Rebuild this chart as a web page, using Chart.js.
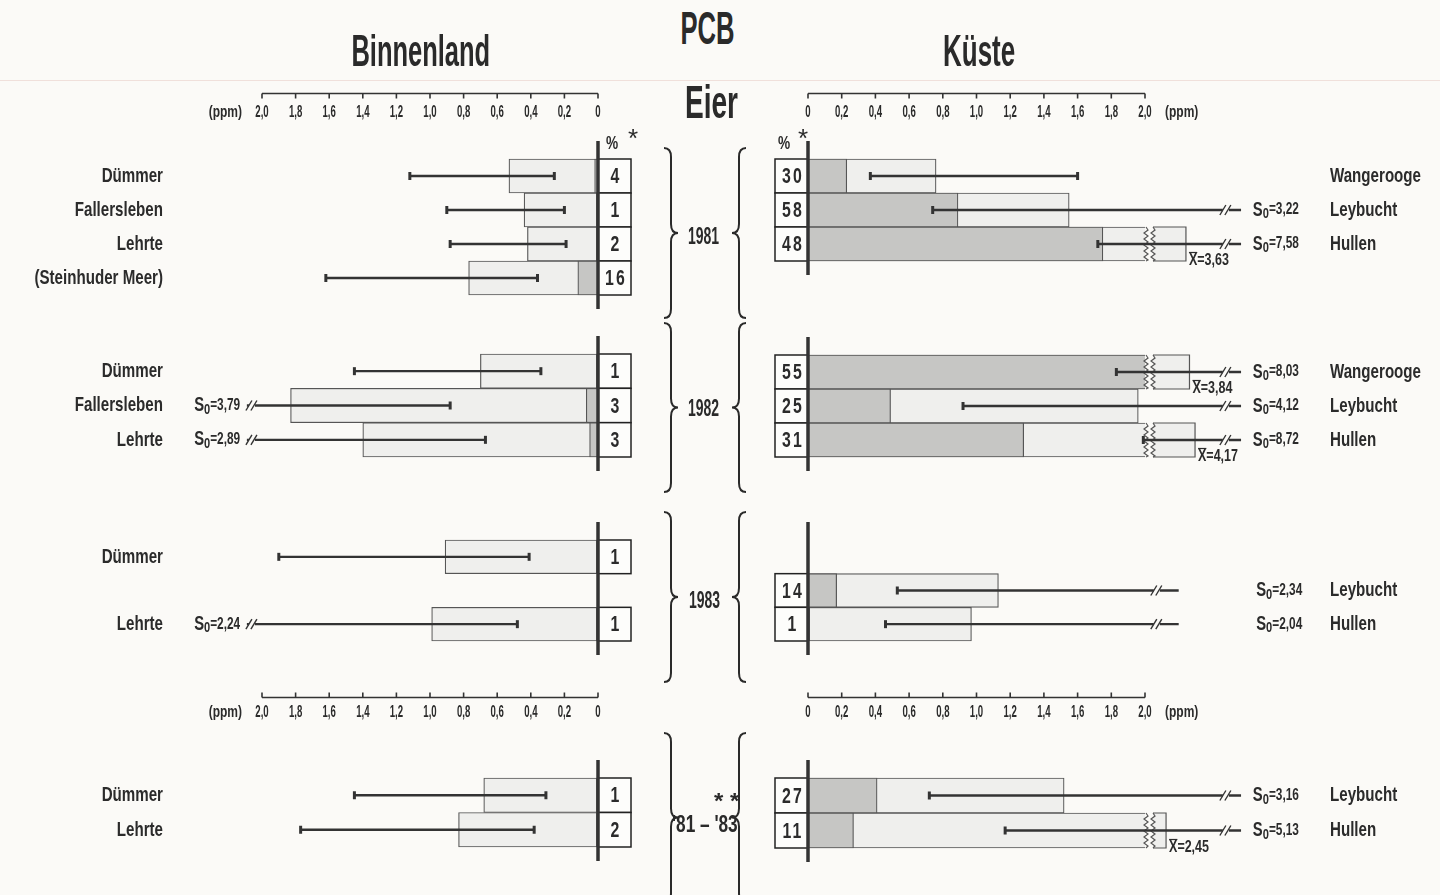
<!DOCTYPE html>
<html lang="de">
<head>
<meta charset="utf-8">
<title>PCB Eier</title>
<script src="https://cdn.jsdelivr.net/npm/chart.js@4.4.1/dist/chart.umd.min.js"></script>
<style>
  html, body { margin: 0; padding: 0; background: #fbfaf7; }
  #blatt { position: relative; width: 1440px; height: 895px; overflow: hidden; background: #fbfaf7;
           font-family: 'Liberation Sans', Arial, sans-serif; color: #2a2a2a; }
  .txt { position: absolute; white-space: nowrap; font-weight: bold; line-height: 1; transform-origin: 50% 50%; }
  canvas { position: absolute; }
  #klammern { position: absolute; left: 0; top: 0; }
  .linie { position: absolute; left: 0; width: 1440px; height: 1px; background: rgba(222, 175, 165, 0.35); }
</style>
</head>
<body>
<div id="blatt">
  <div class="linie" style="top:80px"></div>
  <svg id="klammern" width="1440" height="895"></svg>
</div>
<script>
const FONT = "'Liberation Sans', Arial, sans-serif";
const TINTE = '#2b2b2b';
const HELL = '#efefed';
const DUNKEL = '#c6c6c4';
const SX = 0.72;   // schmale Schrift

// x-Achse (ppm)
const tickWerte = [0, 0.2, 0.4, 0.6, 0.8, 1.0, 1.2, 1.4, 1.6, 1.8, 2.0];

// Binnenland 1981
const orteBinnen1981 = ['Dümmer', 'Fallersleben', 'Lehrte', '(Steinhuder Meer)'];
const mittelBinnen1981 = [0.53, 0.44, 0.42, 0.77];
const anteilBinnen1981 = [0.02, 0.01, 0.01, 0.12];
const prozentBinnen1981 = [4, 1, 2, 16];
const sUntenBinnen1981 = [0.26, 0.20, 0.19, 0.36];
const sObenBinnen1981 = [1.12, 0.90, 0.88, 1.62];

// Binnenland 1982
const orteBinnen1982 = ['Dümmer', 'Fallersleben', 'Lehrte'];
const mittelBinnen1982 = [0.70, 1.83, 1.40];
const anteilBinnen1982 = [0.01, 0.07, 0.05];
const prozentBinnen1982 = [1, 3, 3];
const sUntenBinnen1982 = [0.34, 0.88, 0.67];
const sObenBinnen1982 = [1.45, 3.79, 2.89];

// Binnenland 1983 (mittlere Zeile leer)
const orteBinnen1983 = ['Dümmer', '', 'Lehrte'];
const mittelBinnen1983 = [0.91, null, 0.99];
const anteilBinnen1983 = [0.01, null, 0.01];
const prozentBinnen1983 = [1, null, 1];
const sUntenBinnen1983 = [0.41, null, 0.48];
const sObenBinnen1983 = [1.90, null, 2.24];

// Binnenland '81-'83
const orteBinnenGesamt = ['Dümmer', 'Lehrte'];
const mittelBinnenGesamt = [0.68, 0.83];
const anteilBinnenGesamt = [0.01, 0.01];
const prozentBinnenGesamt = [1, 2];
const sUntenBinnenGesamt = [0.31, 0.38];
const sObenBinnenGesamt = [1.45, 1.77];

// Küste 1981
const orteKueste1981 = ['Wangerooge', 'Leybucht', 'Hullen'];
const mittelKueste1981 = [0.76, 1.55, 3.63];
const anteilKueste1981 = [0.23, 0.89, 1.75];
const prozentKueste1981 = [30, 58, 48];
const sUntenKueste1981 = [0.37, 0.74, 1.72];
const sObenKueste1981 = [1.60, 3.22, 7.58];

// Küste 1982
const orteKueste1982 = ['Wangerooge', 'Leybucht', 'Hullen'];
const mittelKueste1982 = [3.84, 1.96, 4.17];
const anteilKueste1982 = [2.11, 0.49, 1.28];
const prozentKueste1982 = [55, 25, 31];
const sUntenKueste1982 = [1.83, 0.92, 1.99];
const sObenKueste1982 = [8.03, 4.12, 8.72];

// Küste 1983 (erste Zeile leer)
const orteKueste1983 = ['', 'Leybucht', 'Hullen'];
const mittelKueste1983 = [null, 1.13, 0.97];
const anteilKueste1983 = [null, 0.17, 0.01];
const prozentKueste1983 = [null, 14, 1];
const sUntenKueste1983 = [null, 0.53, 0.46];
const sObenKueste1983 = [null, 2.34, 2.04];

// Küste '81-'83
const orteKuesteGesamt = ['Leybucht', 'Hullen'];
const mittelKuesteGesamt = [1.52, 2.45];
const anteilKuesteGesamt = [0.41, 0.27];
const prozentKuesteGesamt = [27, 11];
const sUntenKuesteGesamt = [0.72, 1.17];
const sObenKuesteGesamt = [3.16, 5.13];

const blatt = document.getElementById('blatt');

function komma(v, stellen) {
  return v.toFixed(stellen).replace('.', ',');
}

function setzeText(text, cx, cy, size, zielBreite) {
  const d = document.createElement('div');
  d.className = 'txt';
  d.textContent = text;
  d.style.fontSize = size + 'px';
  blatt.appendChild(d);
  const w = d.offsetWidth, h = d.offsetHeight;
  const sx = zielBreite ? zielBreite / w : 1;
  d.style.left = (cx - w / 2) + 'px';
  d.style.top = (cy - h / 2) + 'px';
  d.style.transform = 'scaleX(' + sx + ')';
}

// schmale Schrift auf dem Canvas, gibt die Breite zurück
function schrift(ctx, text, x, y, size, align, sx, gewicht) {
  ctx.save();
  ctx.font = `${gewicht || 'bold'} ${size}px ${FONT}`;
  ctx.textAlign = align;
  ctx.textBaseline = 'middle';
  ctx.fillStyle = TINTE;
  ctx.translate(x, y);
  ctx.scale(sx, 1);
  ctx.fillText(text, 0, 0);
  const w = ctx.measureText(text).width * sx;
  ctx.restore();
  return w;
}

function breiteVon(ctx, text, size, sx) {
  ctx.save();
  ctx.font = `bold ${size}px ${FONT}`;
  const w = ctx.measureText(text).width * sx;
  ctx.restore();
  return w;
}

function klammer(x, y1, y2, w, rechts) {
  const s = rechts ? 1 : -1;
  const xm = x + s * w / 2, xt = x + s * w, ym = (y1 + y2) / 2, r = 9;
  return `M${x},${y1} Q${xm},${y1} ${xm},${y1 + r} L${xm},${ym - r} Q${xm},${ym} ${xt},${ym} ` +
         `Q${xm},${ym} ${xm},${ym + r} L${xm},${y2 - r} Q${xm},${y2} ${x},${y2}`;
}

function linie(ctx, x1, y1, x2, y2) {
  ctx.beginPath(); ctx.moveTo(x1, y1); ctx.lineTo(x2, y2); ctx.stroke();
}

function wellen(ctx, x, yo, yu) {
  ctx.beginPath();
  ctx.moveTo(x, yo);
  let k = 0;
  for (let y = yo + 3; y < yu; y += 3) {
    ctx.lineTo(x + (k % 2 ? -2 : 2), y);
    k++;
  }
  ctx.lineTo(x, yu);
  ctx.stroke();
}

function s0Text(ctx, wert, x, y, ausrichtung) {
  const sx = 0.74;
  const teile = [
    {t: 'S', s: 20, dy: 0},
    {t: '0', s: 15, dy: 4},
    {t: '=' + komma(wert, 2), s: 16, dy: 0}
  ];
  let breite = 0;
  teile.forEach(p => { p.w = breiteVon(ctx, p.t, p.s, sx); breite += p.w; });
  let xx = ausrichtung === 'right' ? x - breite : x;
  teile.forEach(p => { schrift(ctx, p.t, xx, y + p.dy, p.s, 'left', sx); xx += p.w; });
}

function baueDiagramm(g) {
  const links = g.seite === 'links';
  const rand = 90;
  const canvas = document.createElement('canvas');
  canvas.width = links ? 660 : 720;
  canvas.height = g.unten - g.oben + 2 * rand;
  canvas.style.left = (links ? 0 : 720) + 'px';
  canvas.style.top = (g.oben - rand) + 'px';
  blatt.appendChild(canvas);

  const deko = {
    id: 'deko',
    afterDatasetsDraw(chart) {
      const ctx = chart.ctx, area = chart.chartArea;
      const xs = chart.scales.x, ys = chart.scales.y;
      const meta = chart.getDatasetMeta(1);
      const x0 = xs.getPixelForValue(0);
      const x2 = xs.getPixelForValue(2);
      const dir = links ? -1 : 1;
      ctx.save();

      g.mittel.forEach((m, i) => {
        if (m == null) return;
        const bar = meta.data[i];
        const y = bar.y;
        const yo = y - bar.height / 2, yu = y + bar.height / 2;

        // unterbrochener Balken (Mittelwert > 2 ppm)
        if (m > 2) {
          const xb = x2 + 8;
          const xe = xs.getPixelForValue(2.08 + (m - 2) * 0.1);
          ctx.fillStyle = HELL;
          ctx.fillRect(xb, yo, xe - xb, yu - yo);
          ctx.strokeStyle = '#555';
          ctx.lineWidth = 1.2;
          ctx.beginPath(); ctx.moveTo(xb, yo); ctx.lineTo(xe, yo); ctx.lineTo(xe, yu); ctx.lineTo(xb, yu); ctx.stroke();
          wellen(ctx, x2 + 1, yo, yu);
          wellen(ctx, xb, yo, yu);
          const tx = xe + 3, ty = yu;
          const wx = schrift(ctx, 'X', tx, ty, 16, 'left', 0.78);
          schrift(ctx, '=' + komma(m, 2), tx + wx, ty, 16, 'left', 0.78);
          ctx.strokeStyle = TINTE;
          ctx.lineWidth = 1.2;
          linie(ctx, tx, ty - 8.5, tx + wx, ty - 8.5);
        }

        // Streuung
        const xu = xs.getPixelForValue(g.sUnten[i]);
        const ueber = g.sOben[i] > 2;
        const xo = xs.getPixelForValue(ueber ? g.bruch.ende : g.sOben[i]);
        ctx.strokeStyle = '#333';
        ctx.lineWidth = 2.4;
        linie(ctx, xu, y, xo, y);
        ctx.lineWidth = 3;
        linie(ctx, xu, y - 4, xu, y + 4);
        if (!ueber) {
          linie(ctx, xo, y - 4, xo, y + 4);
        } else {
          const xm = xs.getPixelForValue(g.bruch.mark);
          ctx.fillStyle = '#fbfaf7';
          ctx.fillRect(xm - 3, y - 2, 6, 4);
          ctx.lineWidth = 1.4;
          linie(ctx, xm - 6, y + 5, xm, y - 5);
          linie(ctx, xm - 1, y + 5, xm + 5, y - 5);
          s0Text(ctx, g.sOben[i], xs.getPixelForValue(g.bruch.text), y, links ? 'right' : 'left');
        }

        // Prozentkasten
        const bx = links ? x0 : x0 - 33;
        ctx.fillStyle = '#fdfdfb';
        ctx.fillRect(bx, yo, 33, yu - yo);
        ctx.strokeStyle = '#222';
        ctx.lineWidth = 1.5;
        ctx.strokeRect(bx, yo, 33, yu - yo);
        ctx.letterSpacing = '3px';
        schrift(ctx, String(g.prozent[i]), bx + 18, y + 1, 22, 'center', SX);
        ctx.letterSpacing = '0px';
      });

      // Ortsnamen über die Kategorieachse
      g.orte.forEach((ort, i) => {
        if (!ort) return;
        const yp = ys.getPixelForValue(i);
        if (links) schrift(ctx, ort, area.left - 99, yp, 21, 'right', SX);
        else schrift(ctx, ort, area.right + 185, yp, 21, 'left', SX);
      });

      // Nulllinie
      ctx.strokeStyle = '#333';
      ctx.lineWidth = 3.5;
      linie(ctx, x0, area.top - 18, x0, area.bottom + 14);

      if (g.kopf) {
        schrift(ctx, '%', links ? x0 + 14 : x0 - 24, area.top - 15, 19, 'center', SX);
        schrift(ctx, '*', links ? x0 + 35 : x0 - 5, area.top - 19, 26, 'center', 1, 'normal');
      }

      if (g.achse) {
        const oben = g.achse === 'top';
        const ya = oben ? area.top - 65.5 : area.bottom + 56.5;
        const r = oben ? 5 : -5;
        const yl = oben ? area.top - 46.5 : area.bottom + 71.5;
        ctx.strokeStyle = '#333';
        ctx.lineWidth = 1.6;
        linie(ctx, x0, ya, x2, ya);
        tickWerte.forEach(v => {
          const px = xs.getPixelForValue(v);
          linie(ctx, px, ya, px, ya + r);
          schrift(ctx, v === 0 ? '0' : komma(v, 1), px, yl, 16, 'center', 0.6);
        });
        schrift(ctx, '(ppm)', x2 + dir * 20, yl, 16, links ? 'right' : 'left', 0.75);
      }
      ctx.restore();
    }
  };

  const balken = {
    grouped: false,
    barPercentage: 1,
    categoryPercentage: 1,
    borderColor: '#555',
    borderWidth: 1.2,
    clip: links ? false : {left: 5, top: 5, right: 0, bottom: 5}
  };

  return new Chart(canvas, {
    type: 'bar',
    data: {
      labels: g.orte,
      datasets: [
        Object.assign({label: 'Anteil', data: g.anteil, backgroundColor: DUNKEL}, balken),
        Object.assign({label: 'Mittelwert', data: g.mittel, backgroundColor: HELL}, balken)
      ]
    },
    options: {
      indexAxis: 'y',
      responsive: false,
      animation: false,
      layout: {
        padding: {
          left: links ? 262 : 88,
          right: links ? 62 : 295,
          top: rand,
          bottom: rand
        }
      },
      plugins: {legend: {display: false}, tooltip: {enabled: false}},
      scales: {
        x: {type: 'linear', min: 0, max: 2, reverse: links, display: false},
        y: {type: 'category', display: false}
      }
    },
    plugins: [deko]
  });
}

const bruchLinks = {mark: 2.06, ende: 2.09, text: 2.13};
const bruchRechts = {mark: 2.48, ende: 2.57, text: 2.64};
const bruchRechts1983 = {mark: 2.07, ende: 2.20, text: 2.66};

const gruppen = [
  {seite: 'links', oben: 158.5, unten: 294.5, achse: 'top', kopf: true, bruch: bruchLinks,
   orte: orteBinnen1981, mittel: mittelBinnen1981, anteil: anteilBinnen1981, prozent: prozentBinnen1981,
   sUnten: sUntenBinnen1981, sOben: sObenBinnen1981},
  {seite: 'links', oben: 354, unten: 457, achse: null, kopf: false, bruch: bruchLinks,
   orte: orteBinnen1982, mittel: mittelBinnen1982, anteil: anteilBinnen1982, prozent: prozentBinnen1982,
   sUnten: sUntenBinnen1982, sOben: sObenBinnen1982},
  {seite: 'links', oben: 539.5, unten: 640.5, achse: 'bottom', kopf: false, bruch: bruchLinks,
   orte: orteBinnen1983, mittel: mittelBinnen1983, anteil: anteilBinnen1983, prozent: prozentBinnen1983,
   sUnten: sUntenBinnen1983, sOben: sObenBinnen1983},
  {seite: 'links', oben: 778, unten: 847, achse: null, kopf: false, bruch: bruchLinks,
   orte: orteBinnenGesamt, mittel: mittelBinnenGesamt, anteil: anteilBinnenGesamt, prozent: prozentBinnenGesamt,
   sUnten: sUntenBinnenGesamt, sOben: sObenBinnenGesamt},
  {seite: 'rechts', oben: 159, unten: 261.5, achse: 'top', kopf: true, bruch: bruchRechts,
   orte: orteKueste1981, mittel: mittelKueste1981, anteil: anteilKueste1981, prozent: prozentKueste1981,
   sUnten: sUntenKueste1981, sOben: sObenKueste1981},
  {seite: 'rechts', oben: 355, unten: 457, achse: null, kopf: false, bruch: bruchRechts,
   orte: orteKueste1982, mittel: mittelKueste1982, anteil: anteilKueste1982, prozent: prozentKueste1982,
   sUnten: sUntenKueste1982, sOben: sObenKueste1982},
  {seite: 'rechts', oben: 540, unten: 641.5, achse: 'bottom', kopf: false, bruch: bruchRechts1983,
   orte: orteKueste1983, mittel: mittelKueste1983, anteil: anteilKueste1983, prozent: prozentKueste1983,
   sUnten: sUntenKueste1983, sOben: sObenKueste1983},
  {seite: 'rechts', oben: 778, unten: 848.5, achse: null, kopf: false, bruch: bruchRechts,
   orte: orteKuesteGesamt, mittel: mittelKuesteGesamt, anteil: anteilKuesteGesamt, prozent: prozentKuesteGesamt,
   sUnten: sUntenKuesteGesamt, sOben: sObenKuesteGesamt}
];

gruppen.forEach(baueDiagramm);

// Überschriften und Jahresangaben
setzeText('Binnenland', 421, 51, 44, 139);
setzeText('Küste', 979, 51, 44, 72);
setzeText('PCB', 707, 28, 46, 54);
setzeText('Eier', 711, 102, 46, 53);
setzeText('1981', 703, 236, 23, 31);
setzeText('1982', 703, 408, 23, 31);
setzeText('1983', 704, 600, 23, 31);
setzeText("'81 – '83", 705, 824, 23, 66);
setzeText('* *', 726, 801, 22, 25);

// Klammern
const jahresBereiche = [[148, 318], [323, 492], [512, 682], [733, 902]];
const svg = document.getElementById('klammern');
jahresBereiche.forEach(([y1, y2]) => {
  [[664, true], [746, false]].forEach(([x, rechts]) => {
    const p = document.createElementNS('http://www.w3.org/2000/svg', 'path');
    p.setAttribute('d', klammer(x, y1, y2, 14, rechts));
    p.setAttribute('fill', 'none');
    p.setAttribute('stroke', '#2a2a2a');
    p.setAttribute('stroke-width', '2');
    svg.appendChild(p);
  });
});
</script>
</body>
</html>
